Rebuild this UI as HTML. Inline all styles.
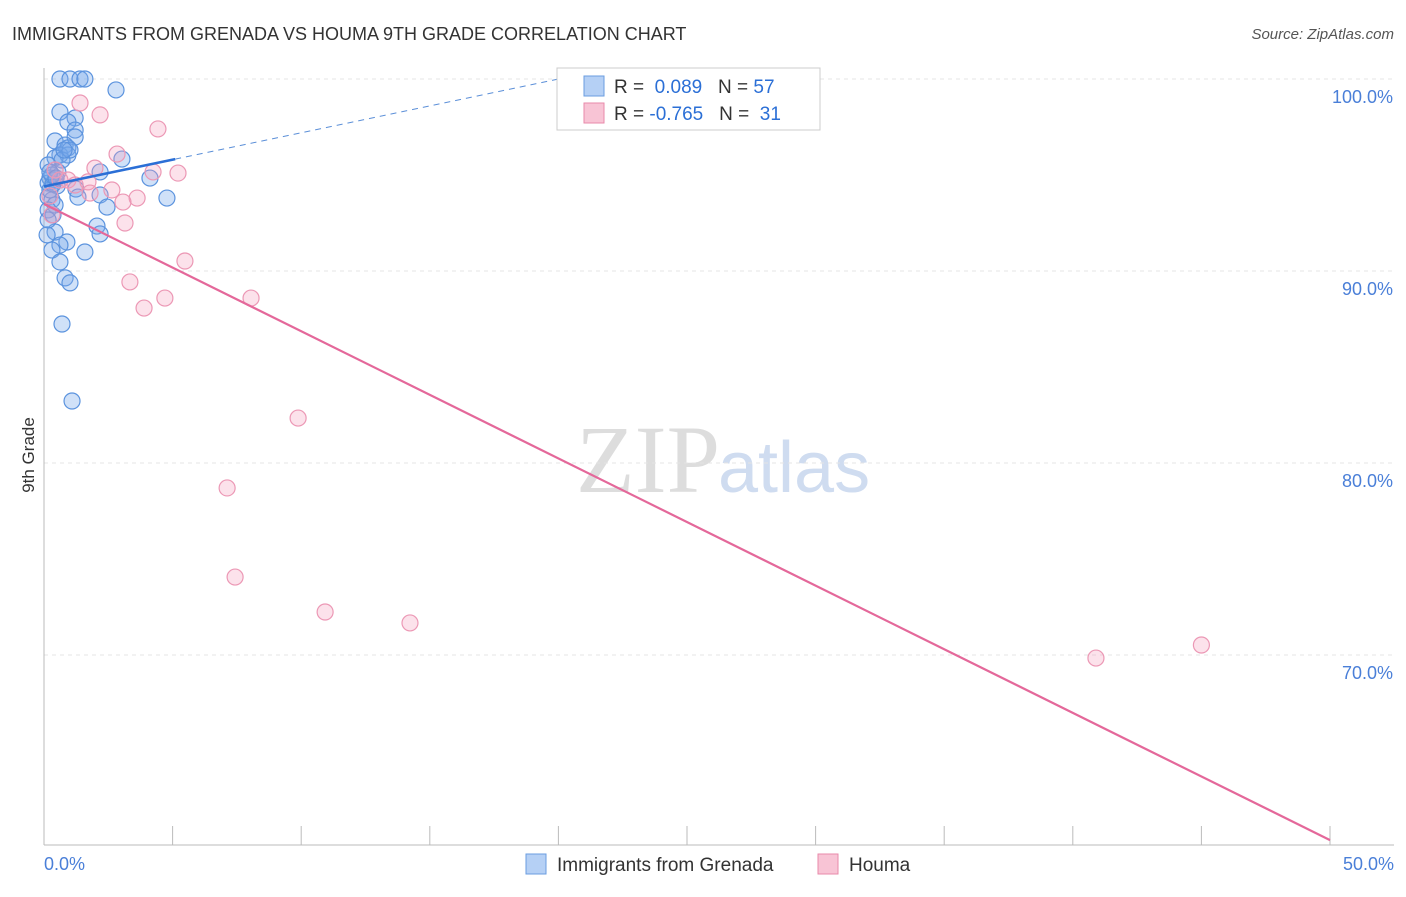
<!DOCTYPE html>
<html><head><meta charset="utf-8"><style>
body{margin:0;background:#fff;font-family:"Liberation Sans",sans-serif}
</style></head><body>
<svg id="c" width="1406" height="892" xmlns="http://www.w3.org/2000/svg">
<text x="12" y="40" font-size="18" fill="#333">IMMIGRANTS FROM GRENADA VS HOUMA 9TH GRADE CORRELATION CHART</text>
<text x="1394" y="39" font-size="15" fill="#555" font-style="italic" text-anchor="end">Source: ZipAtlas.com</text>
<text x="34" y="455" font-size="17" fill="#333" transform="rotate(-90 34 455)" text-anchor="middle">9th Grade</text>
<text x="720" y="492" font-size="96" fill="#ddd" font-family="Liberation Serif" text-anchor="end">ZIP</text>
<text x="718" y="492" font-size="72" fill="#cfdcf0">atlas</text>
<g id="grid"></g><g id="marks"></g>
<g>
<rect x="557" y="68" width="263" height="62" fill="#fff" stroke="#ccc"/>
<rect x="584" y="76" width="20" height="20" fill="#b5d0f5" stroke="#6a9de0"/>
<rect x="584" y="103" width="20" height="20" fill="#f8c4d5" stroke="#e88aaa"/>
<text x="614" y="93" font-size="19" fill="#333">R = <tspan fill="#2b6fd6">&#160;0.089</tspan>&#160;&#160;&#160;N = <tspan fill="#2b6fd6">57</tspan></text>
<text x="614" y="120" font-size="19" fill="#333">R = <tspan fill="#2b6fd6">-0.765</tspan>&#160;&#160;&#160;N = <tspan fill="#2b6fd6">&#160;31</tspan></text>
</g>
<g>
<rect x="526" y="854" width="20" height="20" fill="#b5d0f5" stroke="#6a9de0"/>
<text x="557" y="871" font-size="19" fill="#333">Immigrants from Grenada</text>
<rect x="818" y="854" width="20" height="20" fill="#f8c4d5" stroke="#e88aaa"/>
<text x="849" y="871" font-size="19" fill="#333">Houma</text>
</g>
</svg>
<script>
const xTicks=[0,5,10,15,20,25,30,35,40,45,50];
const yTicks=[70,80,90,100];
const blueX=[0.62,1.01,1.40,1.59,2.80,0.62,1.21,0.93,1.21,1.21,0.43,0.82,0.93,0.62,0.93,0.43,0.70,3.03,0.16,2.18,4.12,0.23,0.43,0.16,0.51,1.24,2.18,1.32,4.78,0.16,0.31,0.43,2.45,0.16,0.35,2.06,2.18,0.43,0.12,0.89,0.62,1.59,0.31,0.62,0.82,1.01,0.70,1.09,0.54,0.23,0.35,0.31,0.16,1.01,0.78,0.23,0.47];
const blueY=[100,100,100,100,99.43,98.28,97.97,97.76,97.34,96.98,96.77,96.56,96.41,96.04,96.04,95.89,95.78,95.83,95.52,95.16,94.84,94.84,94.74,94.58,94.43,94.27,93.96,93.85,93.80,93.85,93.70,93.44,93.33,93.18,92.92,92.34,91.93,92.03,91.88,91.51,91.35,90.99,91.09,90.47,89.64,89.38,87.24,83.23,95.16,94.22,94.53,95.00,92.66,96.30,96.30,95.16,94.84];
const pinkX=[1.40,2.18,4.43,2.84,1.98,4.24,5.21,0.43,0.93,1.71,2.64,1.79,3.62,3.07,1.21,3.15,0.31,5.48,3.34,4.70,3.89,8.05,9.88,7.12,7.43,10.93,14.23,40.9,45.0,0.62,0.23];
const pinkY=[98.75,98.13,97.40,96.09,95.36,95.16,95.10,95.26,94.74,94.64,94.22,94.06,93.80,93.59,94.48,92.50,92.92,90.52,89.43,88.59,88.07,88.59,82.34,78.70,74.06,72.24,71.67,69.84,70.52,94.74,93.91];
const blueTrend=[94.40,0.28];
const pinkTrend=[93.49,-0.6626];
const X=v=>44+v*25.72, Y=v=>79+(100-v)*19.2;
const NS="http://www.w3.org/2000/svg";
function mk(p,t,a){const e=document.createElementNS(NS,t);for(const k in a)e.setAttribute(k,a[k]);p.appendChild(e);return e;}
const g=document.getElementById('grid'),m=document.getElementById('marks');
yTicks.forEach(t=>{const l=mk(g,'line',{x1:44,x2:1394,y1:Y(t),y2:Y(t),stroke:'#e4e4e4','stroke-dasharray':'4,4'});


const tx=mk(g,'text',{x:1393,y:Y(t)+24,'font-size':18,fill:'#4a7fd8','text-anchor':'end'});tx.textContent=t.toFixed(1)+'%';

});
const ax=mk(g,'line',{x1:44,x2:1394,y1:845,y2:845,stroke:'#bbb'});


const ay=mk(g,'line',{x1:44,x2:44,y1:68,y2:845,stroke:'#bbb'});


xTicks.forEach(t=>{const l=mk(g,'line',{x1:X(t),x2:X(t),y1:826,y2:845,stroke:'#bbb'});

});
[[0,'start',44],[50,'end',1394]].forEach(([t,a,x])=>{const tx=mk(g,'text',{x:x,y:870,'font-size':18,fill:'#4a7fd8','text-anchor':a});tx.textContent=t.toFixed(1)+'%';

});
blueX.forEach((v,i)=>{const c=mk(m,'circle',{cx:X(v),cy:Y(blueY[i]),r:8,fill:'rgba(120,170,235,0.35)',stroke:'#5b93de','stroke-width':1.2});

});
pinkX.forEach((v,i)=>{const c=mk(m,'circle',{cx:X(v),cy:Y(pinkY[i]),r:8,fill:'rgba(245,160,190,0.3)',stroke:'#ec98b5','stroke-width':1.2});

});
const bt=v=>blueTrend[0]+blueTrend[1]*v, pt=v=>pinkTrend[0]+pinkTrend[1]*v;
let l=mk(m,'line',{x1:X(5.1),y1:Y(bt(5.1)),x2:X(20),y2:Y(bt(20)),stroke:'#5b8fd8','stroke-width':1,'stroke-dasharray':'6,5'});


l=mk(m,'line',{x1:X(0),y1:Y(bt(0)),x2:X(5.1),y2:Y(bt(5.1)),stroke:'#2b6fd6','stroke-width':2.5});


l=mk(m,'line',{x1:X(0),y1:Y(pt(0)),x2:X(50),y2:Y(pt(50)),stroke:'#e4689a','stroke-width':2.2});


</script>
</body></html>
